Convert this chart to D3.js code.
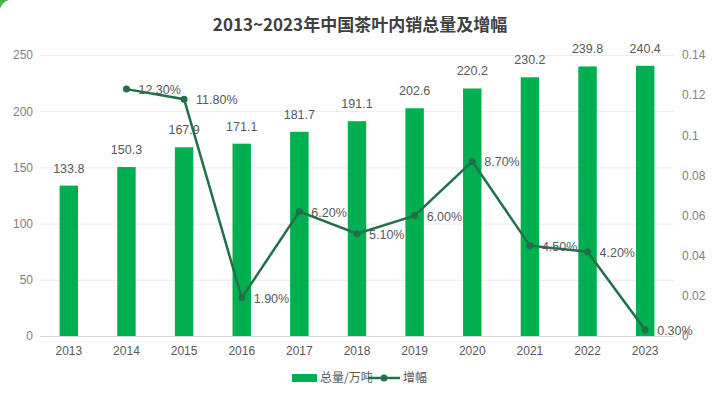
<!DOCTYPE html>
<html><head><meta charset="utf-8">
<script src="https://cdn.jsdelivr.net/npm/d3@7"></script>
<style>
html,body{margin:0;padding:0;background:#fff;}
svg{display:block;font-family:"Liberation Sans","Noto Sans CJK SC",Arial,sans-serif;}
</style></head>
<body>
<svg id="c" width="724" height="398"></svg>
<script>
const years = ["2013","2014","2015","2016","2017","2018","2019","2020","2021","2022","2023"];
const volume = [133.8,150.3,167.9,171.1,181.7,191.1,202.6,220.2,230.2,239.8,240.4];
const growth = [null,0.123,0.118,0.019,0.062,0.051,0.060,0.087,0.045,0.042,0.003];
const leftTicks = [0,50,100,150,200,250];
const rightTicks = [0,0.02,0.04,0.06,0.08,0.1,0.12,0.14];
const title = "2013~2023年中国茶叶内销总量及增幅";
const seriesNames = ["总量/万吨","增幅"];

const svg = d3.select("#c");
const W=724,H=398;
const m={l:40,r:50,t:55,b:62};
const x = d3.scaleBand().domain(years).range([40,674]).paddingInner(0.68).paddingOuter(0.34);
const y = d3.scaleLinear().domain([0,250]).range([336,55]);
const y2 = d3.scaleLinear().domain([0,0.14]).range([336,55]);
const barC="#00B050", lineC="#22704A", txt="#595959", tick="#7F7F7F";

// corner decoration
svg.append("path").attr("d","M0,0 L9,0 Q2,2 0,9 Z").attr("fill","#4caf50");

svg.append("text").attr("x",360).attr("y",31).attr("text-anchor","middle")
  .attr("font-size",17).attr("font-weight","bold").attr("fill","#404040")
  .attr("font-family","'Noto Sans CJK SC','Liberation Sans',sans-serif").text(title);

// grid
svg.append("g").selectAll("line").data(leftTicks).join("line")
  .attr("x1",40).attr("x2",674).attr("y1",d=>y(d)+0.5).attr("y2",d=>y(d)+0.5)
  .attr("stroke",d=>d===0?"#d9d9d9":"#ececec").attr("stroke-width",1);

// left axis
const gl = svg.append("g").attr("transform","translate(40,0)")
  .call(d3.axisLeft(y).tickValues(leftTicks).tickSize(0).tickPadding(7));
gl.select(".domain").remove();
gl.selectAll("text").attr("font-size",12).attr("fill",tick).attr("font-family","Liberation Sans");

// right axis
const gr = svg.append("g").attr("transform","translate(674,0)")
  .call(d3.axisRight(y2).tickValues(rightTicks).tickSize(0).tickPadding(8).tickFormat(d=>d3.format("~g")(d)));
gr.select(".domain").remove();
gr.selectAll("text").attr("font-size",12).attr("fill",tick).attr("font-family","Liberation Sans");

// x axis
const gx = svg.append("g").attr("transform","translate(0,336)")
  .call(d3.axisBottom(x).tickSize(0).tickPadding(10));
gx.select(".domain").remove();
gx.selectAll("text").attr("font-size",12).attr("fill",txt).attr("font-family","Liberation Sans");

// bars
svg.append("g").selectAll("rect").data(years).join("rect")
  .attr("x",d=>x(d)).attr("width",x.bandwidth())
  .attr("y",(d,i)=>y(volume[i])).attr("height",(d,i)=>y(0)-y(volume[i]))
  .attr("fill",barC);

svg.append("g").selectAll("text").data(years).join("text")
  .attr("x",d=>x(d)+x.bandwidth()/2).attr("y",(d,i)=>y(volume[i])-13)
  .attr("text-anchor","middle").attr("font-size",12.5).attr("fill",txt)
  .text((d,i)=>volume[i].toFixed(1));

// line
const pts = years.map((d,i)=>({d,v:growth[i]})).filter(p=>p.v!==null);
const cx = d=>x(d)+x.bandwidth()/2;
svg.append("path").datum(pts)
  .attr("d",d3.line().x(p=>cx(p.d)).y(p=>y2(p.v)))
  .attr("fill","none").attr("stroke",lineC).attr("stroke-width",2.5);
svg.append("g").selectAll("circle").data(pts).join("circle")
  .attr("cx",p=>cx(p.d)).attr("cy",p=>y2(p.v)).attr("r",3.5).attr("fill",lineC);
svg.append("g").selectAll("text").data(pts).join("text")
  .attr("x",p=>cx(p.d)+12).attr("y",p=>y2(p.v)+5)
  .attr("font-size",12.5).attr("fill",txt)
  .text(p=>(p.v*100).toFixed(2)+"%");

// legend
const lg = svg.append("g");
lg.append("rect").attr("x",292).attr("y",374).attr("width",25).attr("height",8).attr("fill",barC);
lg.append("text").attr("x",320).attr("y",382).attr("font-size",12).attr("fill",txt)
  .attr("font-family","'Noto Sans CJK SC',sans-serif").text(seriesNames[0]);
lg.append("line").attr("x1",368).attr("x2",400).attr("y1",378).attr("y2",378).attr("stroke",lineC).attr("stroke-width",2.5);
lg.append("circle").attr("cx",384).attr("cy",378).attr("r",3.5).attr("fill",lineC);
lg.append("text").attr("x",403).attr("y",382).attr("font-size",12).attr("fill",txt)
  .attr("font-family","'Noto Sans CJK SC',sans-serif").text(seriesNames[1]);
</script>
</body></html>
